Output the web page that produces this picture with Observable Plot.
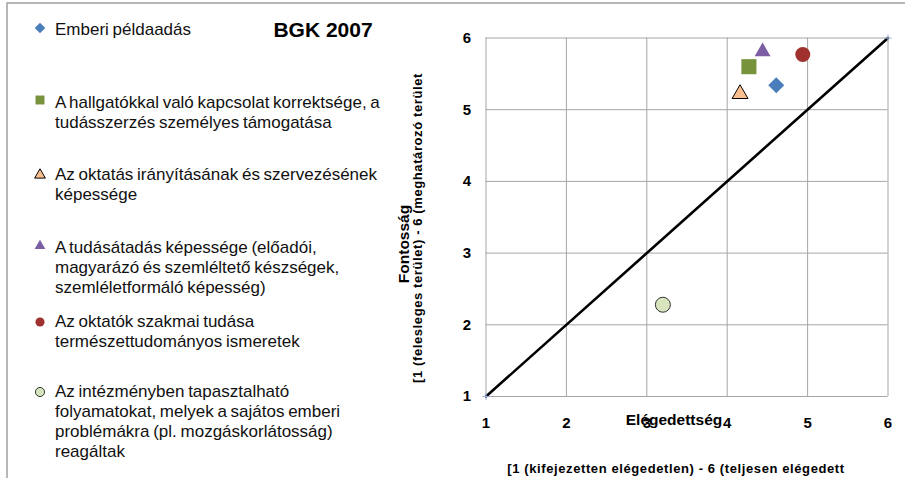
<!DOCTYPE html>
<html>
<head>
<meta charset="utf-8">
<script src="https://cdn.jsdelivr.net/npm/d3@7"></script>
<script src="https://cdn.jsdelivr.net/npm/@observablehq/plot@0.6"></script>
<style>
  html, body { margin: 0; padding: 0; background: #fff; }
  #chart { width: 905px; height: 478px; }
</style>
</head>
<body>
<div id="chart"></div>
<script>
// ---- data ----
const chartTitle = "BGK 2007";
const seriesNames = [
  "Emberi példaadás",
  "A hallgatókkal való kapcsolat korrektsége, a\ntudásszerzés személyes támogatása",
  "Az oktatás irányításának és szervezésének\nképessége",
  "A tudásátadás képessége (előadói,\nmagyarázó és szemléltető készségek,\nszemléletformáló képesség)",
  "Az oktatók szakmai tudása\ntermészettudományos ismeretek",
  "Az intézményben tapasztalható\nfolyamatokat, melyek a sajátos emberi\nproblémákra (pl. mozgáskorlátosság)\nreagáltak"
];
const satisfaction = [4.61, 4.27, 4.16, 4.44, 4.94, 3.20];
const importance   = [5.34, 5.60, 5.22, 5.81, 5.77, 2.28];
const markerShapes = ["diamond", "square", "triangle", "triangle", "circle", "circle"];
const markerFills  = ["#4a7ebb", "#77933c", "#fac090", "#7b5ea3", "#a0312f", "#d7e4bd"];
const markerStrokes = ["none", "none", "#000000", "none", "none", "#333333"];
const diagonalX = [1, 6];
const diagonalY = [1, 6];
const ticks = [1, 2, 3, 4, 5, 6];
const xTitle = "Elégedettség";
const xSubtitle = "[1 (kifejezetten elégedetlen) - 6 (teljesen elégedett";
const yTitle = "Fontosság";
const ySubtitle = "[1 (felesleges terület) - 6 (meghatározó terület";

// ---- table ----
const points = seriesNames.map((name, i) => ({
  name, x: satisfaction[i], y: importance[i],
  shape: markerShapes[i], fill: markerFills[i], stroke: markerStrokes[i]
}));
const diag = diagonalX.map((x, i) => ({x, y: diagonalY[i]}));

const shapeR = {diamond: 6.4, square: 8.5, triangle: 5.9, circle: 7.5};
const dotMarks = points.map(p => Plot.dot([p], {
  x: "x", y: "y",
  symbol: p.shape === "diamond" ? "square" : p.shape,
  rotate: p.shape === "diamond" ? 45 : 0,
  r: shapeR[p.shape],
  fill: p.fill,
  stroke: p.stroke === "none" ? null : p.stroke,
  strokeWidth: 1
}));

const font = "'Liberation Sans', Arial, sans-serif";

const plot = Plot.plot({
  width: 905,
  height: 478,
  marginLeft: 485.5,
  marginRight: 17.5,
  marginTop: 37.5,
  marginBottom: 82,
  style: {fontFamily: font, background: "#fff", color: "#000", overflow: "visible"},
  x: {domain: [1, 6], ticks},
  y: {domain: [1, 6], ticks},
  marks: [
    Plot.gridX(ticks, {stroke: "#a6a6a6", strokeOpacity: 1, strokeWidth: 1}),
    Plot.gridY(ticks, {stroke: "#a6a6a6", strokeOpacity: 1, strokeWidth: 1}),
    Plot.axisX(ticks, {tickSize: 0, tickPadding: 21, fontSize: 15, fontWeight: "bold", label: null, fill: "#000", tickFormat: d => String(d)}),
    Plot.axisY(ticks, {tickSize: 0, tickPadding: 15, fontSize: 15, fontWeight: "bold", label: null, fill: "#000", tickFormat: d => String(d)}),
    Plot.line(diag, {x: "x", y: "y", stroke: "#000", strokeWidth: 2.6}),
    Plot.dot(diag, {x: "x", y: "y", symbol: "plus", r: 2.5, stroke: "#9db3df", strokeWidth: 1}),
    ...dotMarks
  ]
});
document.getElementById("chart").appendChild(plot);

// ---- decorations: border, titles, legend ----
const svg = d3.select(plot);
svg.insert("path", ":first-child")
  .attr("d", "M7,478 V3 H905")
  .attr("fill", "none").attr("stroke", "#a0a0a0").attr("stroke-width", 1.5);

svg.append("text").text(chartTitle)
  .attr("x", 323).attr("y", 37).attr("text-anchor", "middle")
  .attr("font-family", font).attr("font-weight", "bold").attr("font-size", 21).attr("fill", "#000");

svg.append("text").text(xTitle)
  .attr("x", 674).attr("y", 425).attr("text-anchor", "middle")
  .attr("font-family", font).attr("font-weight", "bold").attr("font-size", 15.5).attr("fill", "#000");
svg.append("text").text(xSubtitle)
  .attr("x", 676).attr("y", 473).attr("text-anchor", "middle")
  .attr("font-family", font).attr("font-weight", "bold").attr("font-size", 13).attr("letter-spacing", 0.6).attr("fill", "#000");

svg.append("text").text(yTitle)
  .attr("transform", "translate(409,244) rotate(-90)").attr("text-anchor", "middle")
  .attr("font-family", font).attr("font-weight", "bold").attr("font-size", 15.5).attr("fill", "#000");
svg.append("text").text(ySubtitle)
  .attr("transform", "translate(422,228) rotate(-90)").attr("text-anchor", "middle")
  .attr("font-family", font).attr("font-weight", "bold").attr("font-size", 13).attr("letter-spacing", 0.6).attr("fill", "#000");

// legend
const legendMarkerY = [28, 100, 175, 246, 322, 392];
const legendBaseline = [35, 108, 180, 253, 327, 397];
const legSize = {diamond: 55, square: 80, triangle: 50, circle: 65};
const symMap = {diamond: d3.symbolSquare, square: d3.symbolSquare, triangle: d3.symbolTriangle, circle: d3.symbolCircle};
points.forEach((p, i) => {
  svg.append("path")
    .attr("d", d3.symbol(symMap[p.shape], legSize[p.shape])())
    .attr("transform", `translate(40,${legendMarkerY[i]}) rotate(${p.shape === "diamond" ? 45 : 0})`)
    .attr("fill", p.fill)
    .attr("stroke", p.stroke === "none" ? null : p.stroke)
    .attr("stroke-width", 1);
  const t = svg.append("text")
    .attr("text-anchor", "start")
    .attr("font-family", font).attr("font-size", 17).attr("fill", "#111")
    .attr("word-spacing", -1);
  p.name.split("\n").forEach((line, j) => {
    t.append("tspan").attr("x", 55).attr("y", legendBaseline[i] + j * 20).text(line);
  });
});
</script>
</body>
</html>
